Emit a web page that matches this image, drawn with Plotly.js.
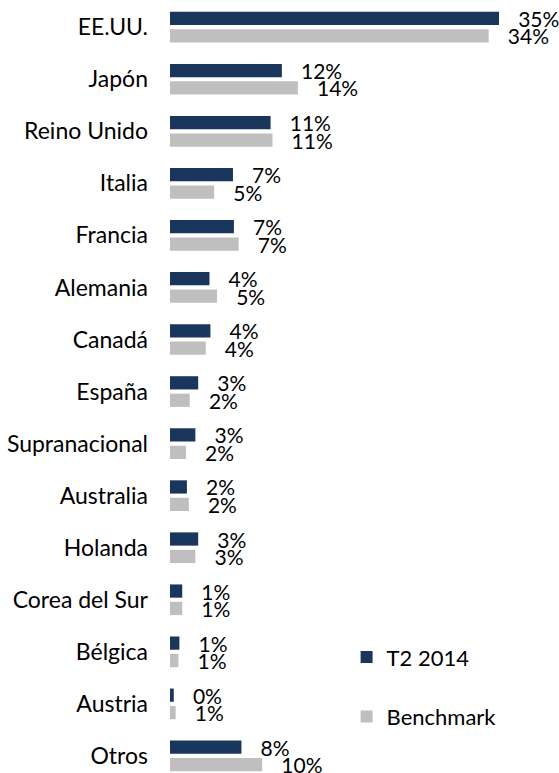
<!DOCTYPE html>
<html><head><meta charset="utf-8">
<script src="https://cdn.plot.ly/plotly-3.0.1.min.js"></script>
<style>html,body{margin:0;padding:0;background:#fff}#c{width:559px;height:773px}</style>
</head><body><div id="c"></div>
<script>
const categories = ['EE.UU.','Japón','Reino Unido','Italia','Francia','Alemania','Canadá','España','Supranacional','Australia','Holanda','Corea del Sur','Bélgica','Austria','Otros'];
const t2Values = [35.0, 11.9, 10.7, 6.7, 6.8, 4.2, 4.3, 3.0, 2.7, 1.8, 3.0, 1.3, 1.0, 0.4, 7.6];
const benchValues = [33.9, 13.6, 10.9, 4.7, 7.3, 5.0, 3.8, 2.1, 1.7, 2.0, 2.7, 1.3, 0.9, 0.6, 9.8];
const t2Labels = ['35%','12%','11%','7%','7%','4%','4%','3%','3%','2%','3%','1%','1%','0%','8%'];
const benchLabels = ['34%','14%','11%','5%','7%','5%','4%','2%','2%','2%','3%','1%','1%','1%','10%'];

const FONT = 'Lato, "Open Sans", sans-serif';
const pad = '\u00a0\u00a0\u00a0';
const traces = [
  {type:'bar', orientation:'h', name:'T2 2014', y:categories, x:t2Values,
   text:t2Labels.map(s=>pad+s), textposition:'outside', constraintext:'none', cliponaxis:false,
   textfont:{family:FONT,size:21,color:'#000'},
   marker:{color:'#1b365d'}, legendgroup:'a', hoverinfo:'none'},
  {type:'bar', orientation:'h', name:'Benchmark', y:categories, x:benchValues,
   text:benchLabels.map(s=>pad+s), textposition:'outside', constraintext:'none', cliponaxis:false,
   textfont:{family:FONT,size:21,color:'#000'},
   marker:{color:'#bfbfbf'}, legendgroup:'b', hoverinfo:'none'}
];
const layout = {
  width:559, height:773,
  margin:{l:170, r:0, t:0, b:0},
  paper_bgcolor:'#fff', plot_bgcolor:'#fff',
  barmode:'group', bargap:0.33, bargroupgap:0.24,
  font:{family:FONT, size:21, color:'#000'},
  xaxis:{range:[0,41.38], showgrid:false, zeroline:false, showticklabels:false, showline:false, ticks:''},
  yaxis:{type:'category', range:[14.328,-0.5226], showgrid:false, zeroline:false, showline:false, ticks:'',
         ticklabelstandoff:21, tickfont:{family:FONT,size:23,color:'#000'}},
  showlegend:true,
  legend:{x:0.454, xanchor:'left', y:0.177, yanchor:'top', traceorder:'grouped', tracegroupgap:28,
          font:{family:FONT,size:22,color:'#000'}, bgcolor:'rgba(0,0,0,0)'}
};
Plotly.newPlot('c', traces, layout, {staticPlot:true, displayModeBar:false});
</script></body></html>
